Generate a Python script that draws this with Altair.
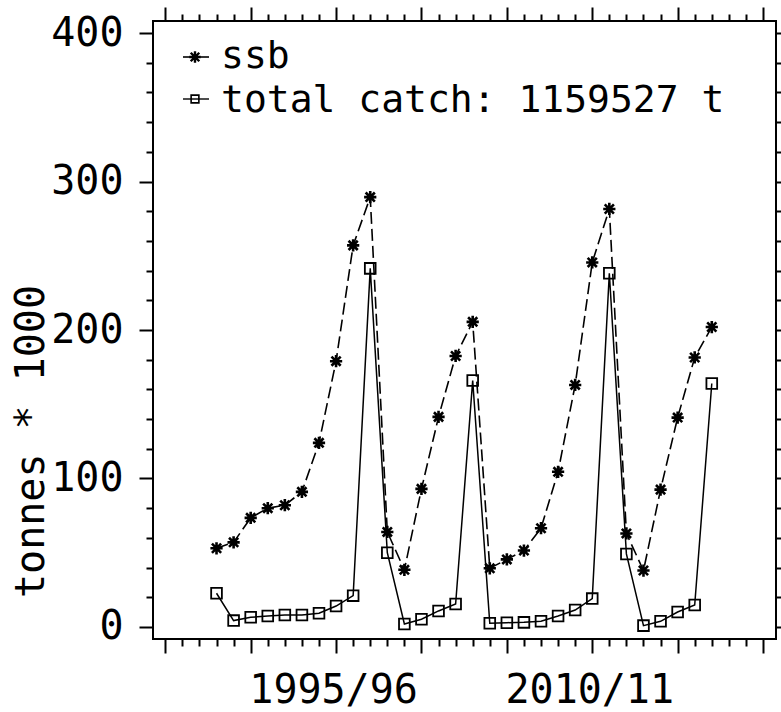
import altair as alt
import pandas as pd

# ---- data ----
years = list(range(1988, 2018))
ssb = [53, 57, 73.5, 80, 82, 91, 124, 179, 257, 289.5,
       64, 38.5, 93, 141.5, 182.5, 205.5,
       39.5, 45.5, 51.5, 66.5, 104.5, 163, 245.5, 281.5,
       63, 38, 92.5, 141, 181.5, 202]
catch = [22.7, 4.3, 6.5, 7.4, 8.1, 8.1, 9.2, 14.1, 21.1, 241.5,
         50, 2.0, 5.2, 10.8, 15.5, 166,
         2.5, 2.9, 3.1, 3.8, 7.4, 11.4, 19.1, 238.2,
         49.2, 0.9, 3.8, 10.1, 14.8, 164]
x_ticks = list(range(1985, 2021))
y_ticks = list(range(0, 401, 20))
x_labels = {1995: "1995/96", 2010: "2010/11"}
legend_labels = ["ssb", "total catch: 1159527 t"]
y_title = "tonnes * 1000"

df = pd.DataFrame({"year": years, "ssb": ssb, "catch": catch})

FONT = "DejaVu Sans Mono"
xdom = [1984.28, 2020.76]
ydom = [-8.1, 408.1]
xscale = alt.Scale(domain=xdom, nice=False, zero=False)
yscale = alt.Scale(domain=ydom, nice=False, zero=False)

x_major = {"condition": {"test": "datum.value % 5 === 0", "value": 14}, "value": 7}
y_major = {"condition": {"test": "datum.value % 100 === 0", "value": 14}, "value": 7}

lbl_expr = " : ".join(
    [f"datum.value === {k} ? '{v}'" for k, v in x_labels.items()] + ["''"]
)

axis_bottom = alt.Axis(orient="bottom", values=x_ticks, tickSize=x_major,
                       labelExpr=lbl_expr, labelPadding=17, labelOverlap=False,
                       labelFlush=False, labelOffset=-3, title=None)
axis_top = alt.Axis(orient="top", values=x_ticks, tickSize=x_major,
                    labels=False, title=None)
axis_left = alt.Axis(orient="left", values=y_ticks, tickSize=y_major,
                     labelExpr="datum.value % 100 === 0 ? datum.label : ''",
                     labelPadding=16, labelOverlap=False, labelFlush=False,
                     title=y_title, titleX=-110, titleY=420, titleAngle=270,
                     titleAlign="center", titleBaseline="alphabetic")
axis_right = alt.Axis(orient="right", values=y_ticks, tickSize=y_major,
                      labels=False, title=None)

base = alt.Chart(df)

catch_line = base.mark_line(color="black", strokeWidth=1.5).encode(
    x=alt.X("year:Q", scale=xscale, axis=axis_bottom),
    y=alt.Y("catch:Q", scale=yscale, axis=axis_left),
)
catch_pts = base.mark_point(shape="square", size=115, filled=False,
                            color="black", strokeWidth=1.8, opacity=1).encode(
    x=alt.X("year:Q", scale=xscale, axis=None),
    y=alt.Y("catch:Q", scale=yscale, axis=None),
)

ASTER = "M-1,0L1,0M0,-1L0,1M-0.75,-0.75L0.75,0.75M-0.75,0.75L0.75,-0.75"

ssb_line = base.mark_line(color="black", strokeWidth=1.6, strokeDash=[12, 5]).encode(
    x=alt.X("year:Q", scale=xscale, axis=axis_top),
    y=alt.Y("ssb:Q", scale=yscale, axis=axis_right),
)
ssb_pts = base.mark_point(shape=ASTER, size=150, filled=False,
                          color="black", strokeWidth=2.6, opacity=1).encode(
    x=alt.X("year:Q", scale=xscale, axis=None),
    y=alt.Y("ssb:Q", scale=yscale, axis=None),
)

# ---- hand-made legend (inside plot, top left) ----
leg1 = pd.DataFrame({"label": [legend_labels[0]]})
leg2 = pd.DataFrame({"label": [legend_labels[1]]})

leg_rule1 = alt.Chart(leg1).mark_rule(color="black", strokeWidth=1.6).encode(
    x=alt.value(30), x2=alt.value(56), y=alt.value(36))
leg_sym1 = alt.Chart(leg1).mark_point(shape=ASTER, size=130, filled=False,
                                      color="black", strokeWidth=2.4, opacity=1).encode(
    x=alt.value(42), y=alt.value(36))
leg_txt1 = alt.Chart(leg1).mark_text(font=FONT, fontSize=38, align="left",
                                     baseline="alphabetic", color="black").encode(
    x=alt.value(68), y=alt.value(47), text="label:N")

leg_rule2 = alt.Chart(leg2).mark_rule(color="black", strokeWidth=1.4).encode(
    x=alt.value(30), x2=alt.value(56), y=alt.value(78))
leg_sym2 = alt.Chart(leg2).mark_point(shape="square", size=60, filled=False,
                                      color="black", strokeWidth=1.6, opacity=1).encode(
    x=alt.value(42), y=alt.value(78))
leg_txt2 = alt.Chart(leg2).mark_text(font=FONT, fontSize=38, align="left",
                                     baseline="alphabetic", color="black").encode(
    x=alt.value(68), y=alt.value(91), text="label:N")

chart = alt.layer(
    catch_line, catch_pts, ssb_line, ssb_pts,
    leg_rule1, leg_sym1, leg_txt1, leg_rule2, leg_sym2, leg_txt2,
).resolve_axis(x="independent", y="independent").properties(
    width=623, height=618,
    autosize="none",
    padding={"left": 153, "top": 21, "right": 5, "bottom": 73},
    background="white",
).configure_view(
    stroke="black", strokeWidth=2, fill="white"
).configure_axis(
    labelFont=FONT, labelFontSize=40, labelColor="black",
    titleFont=FONT, titleFontSize=40, titleFontWeight="normal", titleColor="black",
    tickColor="black", tickWidth=2, domain=False, grid=False,
)

chart.save("out.html", embed_options={"renderer": "svg", "actions": False})
